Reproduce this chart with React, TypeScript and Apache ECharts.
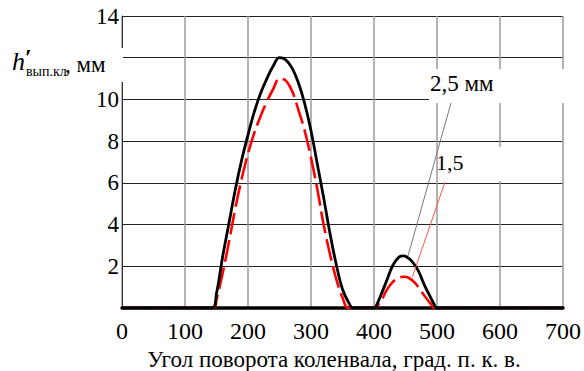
import React, { useEffect, useRef } from "react";
import * as echarts from "echarts";

// Crank angle (deg) vs. exhaust valve lift (mm), two clearance cases
const liftFull: [number, number][] = [
  [0, 0], [143, 0], [150, 0.7], [160, 2.5], [170, 4.1], [180, 5.7], [190, 7.1],
  [200, 8.3], [210, 9.4], [220, 10.3], [230, 11.0], [240, 11.6], [250, 12.0],
  [260, 11.9], [270, 11.5], [280, 10.8], [290, 9.8], [300, 8.5], [310, 6.9],
  [320, 5.3], [330, 3.6], [340, 2.1], [350, 0.9], [360, 0.25], [367, 0],
  [400, 0], [405, 0.2], [410, 0.55], [420, 1.3], [430, 2.05], [440, 2.45],
  [447, 2.5], [450, 2.48], [460, 2.25], [470, 1.8], [480, 1.1], [490, 0.5],
  [495, 0.2], [500, 0], [700, 0],
];

const liftReduced: [number, number][] = [
  [0, 0], [146, 0], [150, 0.4], [160, 1.7], [170, 3.2], [180, 4.8], [190, 6.2],
  [200, 7.4], [210, 8.4], [220, 9.2], [230, 9.9], [240, 10.5], [250, 11.0],
  [260, 10.9], [270, 10.4], [280, 9.5], [290, 8.5], [300, 7.2], [310, 5.7],
  [320, 4.0], [330, 2.6], [340, 1.4], [350, 0.5], [360, 0],
  [400, 0], [405, 0.1], [410, 0.3], [415, 0.55], [420, 0.85], [430, 1.25],
  [440, 1.45], [447, 1.5], [455, 1.45], [465, 1.2], [475, 0.8], [481, 0.55],
  [490, 0.2], [496, 0], [700, 0],
];

const xTitle = "Угол поворота коленвала, град. п. к. в.";
const fullLabel = "2,5 мм";
const reducedLabel = "1,5";
// where the leader lines touch the curves
const fullPointer: [number, number] = [454, 2.5];
const reducedPointer: [number, number] = [461, 1.49];

const serif = "Liberation Serif";

const txt = (x: number, y: number, text: string, size: number, extra: any = {}) => ({
  type: "text",
  x,
  y,
  z: 11,
  style: { text, fontFamily: serif, fontSize: size, fill: "#000", ...extra },
});

export default function App() {
  const ref = useRef<HTMLDivElement>(null);

  useEffect(() => {
    document.body.style.margin = "0";
    if (!ref.current) return;
    const chart = echarts.init(ref.current, null, { renderer: "svg" });
    chart.setOption({
      animation: false,
      backgroundColor: "#fff",
      textStyle: { fontFamily: serif },
      grid: { left: 122, right: 21, top: 16, bottom: 63, outerBoundsMode: "none", containLabel: false },
      xAxis: {
        type: "value",
        min: 0,
        max: 700,
        interval: 100,
        axisLine: { show: true, lineStyle: { color: "#000", width: 3.5 } },
        axisTick: { show: false },
        axisLabel: { color: "#000", fontFamily: serif, fontSize: 24, margin: 11 },
        splitLine: { show: true, lineStyle: { color: "#9a9a9a", width: 1.5 } },
        name: xTitle,
        nameLocation: "middle",
        nameGap: 48,
        nameTextStyle: {
          color: "#000",
          fontFamily: serif,
          fontSize: 23,
          lineHeight: 23,
          verticalAlign: "middle",
          padding: [0, 17, 0, 0],
        },
      },
      yAxis: {
        type: "value",
        min: 0,
        max: 14,
        interval: 2,
        axisLine: { show: true, lineStyle: { color: "#333", width: 1 } },
        axisTick: { show: false },
        axisLabel: {
          color: "#000",
          fontFamily: serif,
          fontSize: 23,
          margin: 3,
          formatter: (v: number) => (v === 0 || v === 12 ? "" : String(v)),
        },
        splitLine: { show: true, lineStyle: { color: "#222", width: 1 } },
      },
      series: [
        {
          type: "line",
          data: liftReduced,
          showSymbol: false,
          smooth: 0.4,
          lineStyle: { color: "#ff0000", width: 2.6, type: [22, 6] },
          z: 3,
        },
        {
          type: "line",
          data: liftFull,
          showSymbol: false,
          smooth: 0.4,
          lineStyle: { color: "#000", width: 2.8 },
          z: 4,
        },
      ],
    });

    const pFull = chart.convertToPixel({ gridIndex: 0 }, fullPointer) as number[];
    const pRed = chart.convertToPixel({ gridIndex: 0 }, reducedPointer) as number[];

    chart.setOption({
      graphic: [
        // y-axis title with its backdrop
        { type: "rect", shape: { x: 100, y: 48, width: 23, height: 34 }, style: { fill: "#fff" }, z: 10 },
        txt(12, 48, "h", 26, { fontStyle: "italic" }),
        txt(25, 51, "′", 24, { fontWeight: "bold", lineHeight: 12 }),
        txt(26, 64, "вып.кл", 14),
        txt(65, 53, ", мм", 23),
        // annotation boxes
        { type: "rect", shape: { x: 429, y: 69, width: 136, height: 34 }, style: { fill: "#fff" }, z: 10 },
        { type: "rect", shape: { x: 438, y: 147, width: 106, height: 34 }, style: { fill: "#fff" }, z: 10 },
        txt(430, 72, fullLabel, 23),
        txt(436, 151, reducedLabel, 22),
        // leader lines
        {
          type: "line",
          shape: { x1: 451, y1: 103, x2: pFull[0], y2: pFull[1] },
          style: { stroke: "#777", lineWidth: 1 },
          z: 12,
        },
        {
          type: "line",
          shape: { x1: 445, y1: 182, x2: pRed[0], y2: pRed[1] },
          style: { stroke: "#ff5050", lineWidth: 1 },
          z: 12,
        },
      ],
    });

    return () => chart.dispose();
  }, []);

  return <div ref={ref} style={{ width: 584, height: 371 }} />;
}
